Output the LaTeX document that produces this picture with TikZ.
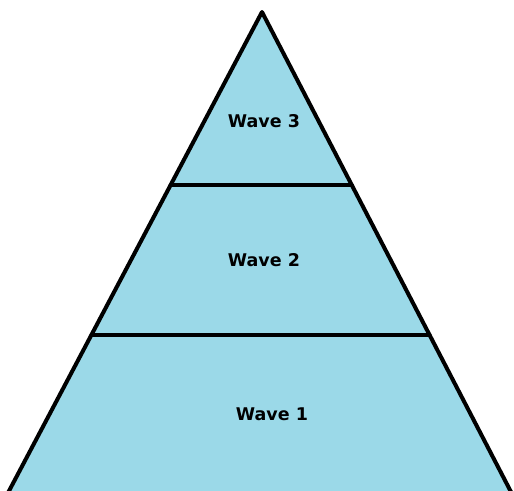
\documentclass[tikz,border=0pt]{standalone}
\usepackage{fontspec}
\setmainfont{DejaVu Sans}
\usetikzlibrary{calc}
\definecolor{pyrfill}{RGB}{155,217,232}
\tikzset{
  edge/.style={line width=4pt, line cap=round, line join=round},
  wave/.style={font=\fontsize{17.5}{21}\selectfont\bfseries, text=black}
}
\begin{document}
\begin{tikzpicture}[x=1pt,y=-1pt]
\useasboundingbox (0,0) rectangle (514,490);
\clip (0,0) rectangle (514,490);
\coordinate (apex) at (262,12);
\coordinate (bl) at ($(apex)!1.1!(9.5,490)$);
\coordinate (br) at ($(apex)!1.1!(510,490)$);
\filldraw[edge, fill=pyrfill] (apex) -- (bl) -- (br) -- cycle;
\coordinate (l1) at ($(apex)!{(185-12)/478}!(9.5,490)$);
\coordinate (r1) at ($(apex)!{(185-12)/478}!(510,490)$);
\coordinate (l2) at ($(apex)!{(335-12)/478}!(9.5,490)$);
\coordinate (r2) at ($(apex)!{(335-12)/478}!(510,490)$);
\draw[edge] (l1) -- (r1);
\draw[edge] (l2) -- (r2);
\node[wave] (w3) at (264,121) {Wave 3};
\node[wave] (w2) at (264,260) {Wave 2};
\node[wave] (w1) at (272,414) {Wave 1};
\end{tikzpicture}
\end{document}
